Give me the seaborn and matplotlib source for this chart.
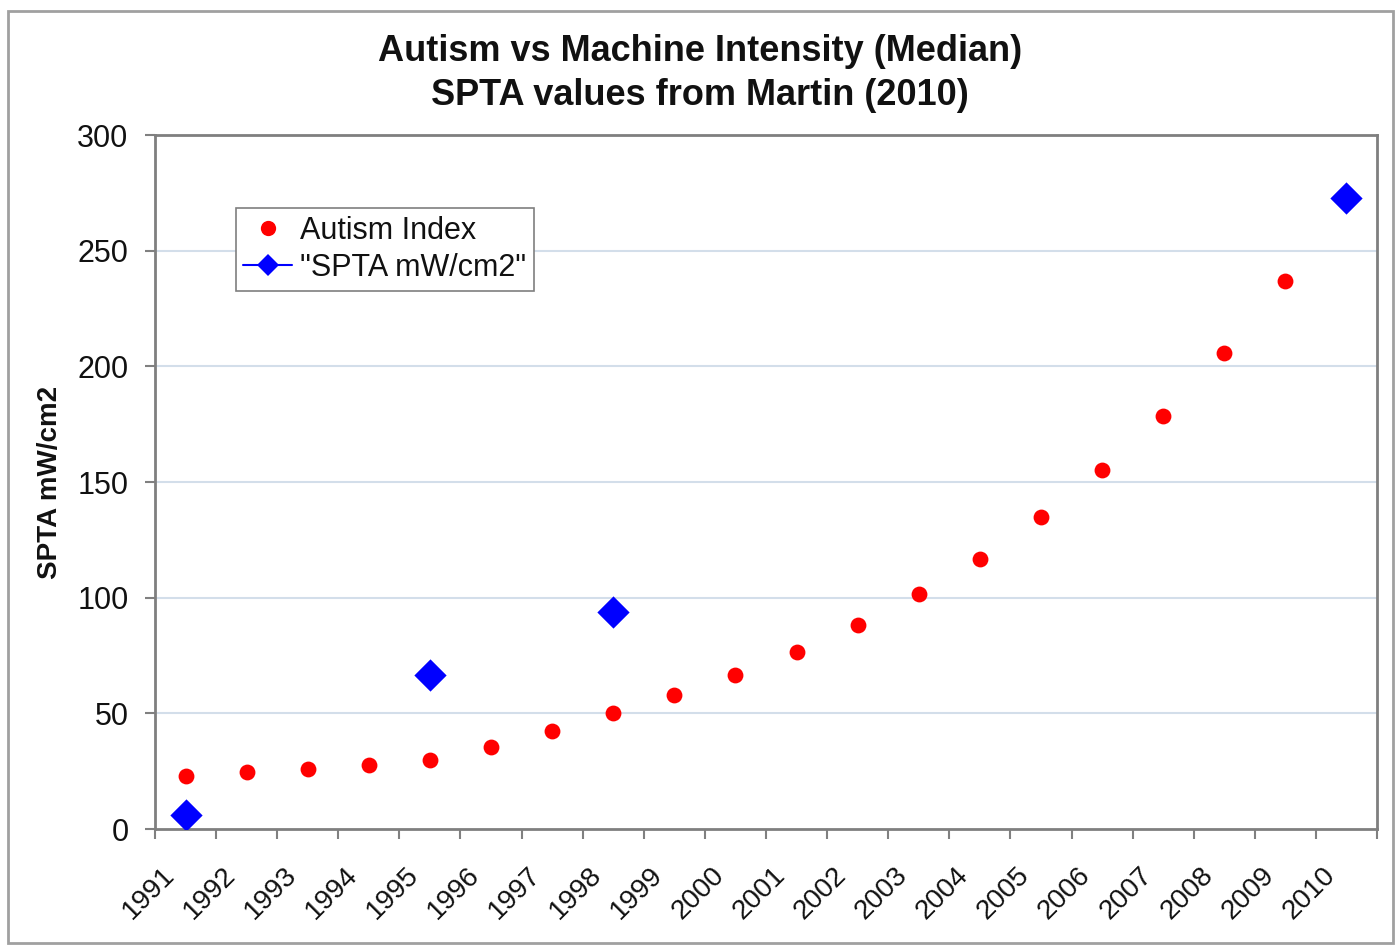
import matplotlib
matplotlib.use("Agg")
import matplotlib.pyplot as plt
import seaborn as sns
import pandas as pd
from matplotlib.lines import Line2D
from matplotlib.patches import Rectangle

# Series values
years = list(range(1991, 2011))
autism_index = [23, 24.5, 26, 27.7, 29.8, 35.4, 42.4, 50.2, 57.9, 66.6,
                76.5, 88.2, 101.6, 116.7, 134.9, 155.2, 178.6, 205.8, 236.9, None]
spta_years = [1991, 1995, 1998, 2010]
spta_values = [6, 66.6, 93.8, 272.8]
y_ticks = [0, 50, 100, 150, 200, 250, 300]

title = "Autism vs Machine Intensity (Median)\nSPTA values from Martin (2010)"
y_label = "SPTA mW/cm2"
legend_labels = ["Autism Index", '"SPTA mW/cm2"']

sns.set_theme(style="white")
plt.rcParams["font.family"] = ["Liberation Sans", "DejaVu Sans"]

autism_df = pd.DataFrame({"year": years, "value": autism_index}).dropna()
spta_df = pd.DataFrame({"year": spta_years, "value": spta_values})

fig = plt.figure(figsize=(14, 9.49), dpi=100)
fig.patch.set_facecolor("white")
ax = fig.add_axes([0.1107, 0.1264, 0.8729, 0.7313])

# light horizontal gridlines
for v in y_ticks[1:-1]:
    ax.axhline(v, color="#d3deea", lw=1.5, zorder=0)

sns.scatterplot(data=autism_df, x="year", y="value", ax=ax, color="#ff0000",
                marker="o", s=130, linewidth=0, zorder=3, legend=False)
sns.scatterplot(data=spta_df, x="year", y="value", ax=ax, color="#0000ff",
                marker="D", s=270, linewidth=0, zorder=4, legend=False)

ax.set_xlim(years[0] - 0.5, years[-1] + 0.5)
ax.set_ylim(0, 300)
ax.set_yticks(y_ticks)
ax.set_yticklabels([str(v) for v in y_ticks], fontsize=22, color="#111111")

# category boundaries carry the tick marks; rotated labels hang just left
# of each category centre
ax.set_xticks([y - 0.5 for y in years] + [years[-1] + 0.5])
ax.set_xticklabels([])
ax.set_xticks([y - 0.4 for y in years], minor=True)
ax.set_xticklabels([str(y) for y in years], minor=True, fontsize=20,
                   color="#111111", rotation=45, ha="right", va="top",
                   rotation_mode="anchor")
ax.tick_params(axis="x", which="major", length=7, width=1.5, color="#808080",
               direction="out", bottom=True)
ax.tick_params(axis="x", which="minor", length=0, pad=24, bottom=True)
ax.tick_params(axis="y", which="major", length=7, width=1.5, color="#808080",
               direction="out", left=True, pad=12)

ax.set_xlabel("")
ax.set_ylabel(y_label, fontsize=20, fontweight="bold", labelpad=10,
              color="#111111")
for side in ["left", "right", "top", "bottom"]:
    ax.spines[side].set_visible(True)
    ax.spines[side].set_color("#7f7f7f")
    ax.spines[side].set_linewidth(2)

fig.text(0.5, 0.9225, title, ha="center", va="center", fontsize=26,
         fontweight="bold", linespacing=1.3, color="#111111")

handles = [
    Line2D([], [], color="#ff0000", marker="o", linestyle="", markersize=11,
           markeredgewidth=0),
    Line2D([], [], color="#0000ff", marker="D", linestyle="-", lw=1.5,
           markersize=11, markeredgewidth=0),
]
leg = ax.legend(handles, legend_labels, loc="upper left",
                bbox_to_anchor=(0.066, 0.895), fontsize=22, frameon=True,
                fancybox=False, edgecolor="#7f7f7f", framealpha=1,
                handlelength=1.6, handletextpad=0.25, borderpad=0.25,
                labelspacing=0.25, borderaxespad=0)
leg.get_frame().set_linewidth(1.2)
for t in leg.get_texts():
    t.set_color("#111111")

# outer chart border
fig.patches.append(Rectangle((0.006, 0.006), 0.989, 0.982, transform=fig.transFigure,
                             fill=False, edgecolor="#a0a0a0", lw=2))

fig.savefig("out.png", dpi=100)
